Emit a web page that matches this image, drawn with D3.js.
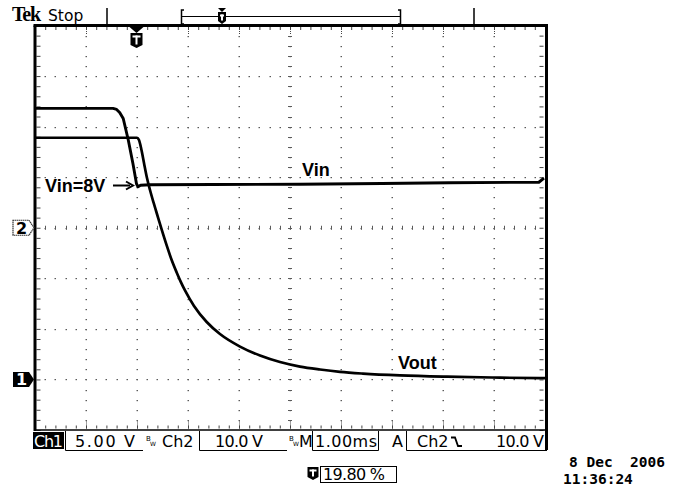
<!DOCTYPE html>
<html><head><meta charset="utf-8">
<script src="https://cdn.jsdelivr.net/npm/d3@7"></script>
<style>html,body{margin:0;padding:0;background:#fff;}svg{display:block}</style>
</head><body>
<svg id="c" width="678" height="491"></svg>
<script>
// ---- data (time in ms from left edge of screen, volts) ----
const vinTime  = [0, 1.53, 1.60, 1.66, 1.73, 1.83, 1.92, 1.99, 2.02, 2.07, 2.25, 3.5, 5.19, 6.8, 8.12, 9.88, 9.98];
const vinVolts = [23.6, 23.6, 23.4, 22.8, 21.6, 17.3, 12.7, 8.7, 8.1, 8.4, 8.5, 8.55, 8.6, 8.75, 8.9, 9.0, 9.8];
const voutTime  = [0, 2.0, 2.039, 2.088, 2.137, 2.196, 2.255, 2.324, 2.386, 2.48, 2.582, 2.676, 2.778, 2.863, 2.941, 3.118, 3.367, 3.627, 4.02, 4.412, 4.804, 5.196, 5.588, 5.98, 6.43, 7.157, 8.078, 9.118, 10.0];
const voutVolts = [23.9, 23.9, 23.68, 22.69, 21.41, 19.92, 18.73, 17.5, 16.46, 14.88, 13.25, 11.86, 10.58, 9.6, 8.8, 7.27, 5.68, 4.49, 3.25, 2.36, 1.72, 1.27, 0.98, 0.75, 0.58, 0.40, 0.27, 0.18, 0.12];
const ch1Scale = "5.00 V", ch2Scale = "10.0 V", timeScale = "1.00ms", trigLevel = "10.0 V";
const trigPos = "19.80 %", dateText = "8 Dec\u00a0\u00a02006", timeText = "11:36:24";
const trigTime = 2.0;
const divsX = [0,1,2,3,4,5,6,7,8,9,10];
const divsY = [0,1,2,3,4,5,6,7,8];

const svg = d3.select("#c");
svg.append("rect").attr("width",678).attr("height",491).attr("fill","#fff");

const L=35, R=545, TOP=25.5, B=430;
const xDiv = d3.scaleLinear().domain([0,10]).range([L,R]);
const yDiv = d3.scaleLinear().domain([0,8]).range([TOP,B]);
const x  = d3.scaleLinear().domain([0,10]).range([L,R]);        // 1 ms/div
const y2 = d3.scaleLinear().domain([-40,40]).range([B,TOP]);     // Ch2 10 V/div, ground centre
const y1 = d3.scaleLinear().domain([-5,35]).range([B,TOP]);      // Ch1 5 V/div

const minorX = d3.range(0,51).map(i=>i/5);
const minorY = d3.range(0,41).map(i=>i/5);

// graticule dots
const grid = svg.append("g").attr("fill","#5a5a5a");
divsX.slice(1,-1).forEach(c=>{
  minorY.slice(1,-1).forEach(v=>{
    grid.append("rect").attr("x",Math.round(xDiv(c))-0.5).attr("y",Math.round(yDiv(v))).attr("width",1.5).attr("height",1.2);
  });
});
divsY.slice(1,-1).forEach(r=>{
  minorX.slice(1,-1).forEach(v=>{
    grid.append("rect").attr("x",Math.round(xDiv(v))-0.5).attr("y",Math.round(yDiv(r))).attr("width",1.5).attr("height",1.2);
  });
});
const cx = xDiv(5), cy = yDiv(4);
minorY.slice(1,-1).forEach(v=>{
  grid.append("rect").attr("x",cx-2).attr("y",Math.round(yDiv(v))).attr("width",4).attr("height",1);
});
minorX.slice(1,-1).forEach(v=>{
  grid.append("rect").attr("x",Math.round(xDiv(v))).attr("y",cy-2).attr("width",1).attr("height",4);
});

// border ticks via axes
function styleAxis(g){ g.select(".domain").remove(); g.selectAll("line").attr("stroke","#444"); }
svg.append("g").attr("transform",`translate(${L+1.5},0)`).call(d3.axisRight(yDiv).tickValues(minorY).tickSize(4).tickFormat("")).call(styleAxis);
svg.append("g").attr("transform",`translate(${R-1.5},0)`).call(d3.axisLeft(yDiv).tickValues(minorY).tickSize(4).tickFormat("")).call(styleAxis);
svg.append("g").attr("transform",`translate(0,${TOP+1.5})`).call(d3.axisBottom(xDiv).tickValues(minorX).tickSize(3).tickFormat("")).call(styleAxis);
svg.append("g").attr("transform",`translate(0,${B-1.5})`).call(d3.axisTop(xDiv).tickValues(minorX).tickSize(3).tickFormat("")).call(styleAxis);
svg.append("g").attr("transform",`translate(0,${TOP+1.5})`).call(d3.axisBottom(xDiv).tickValues(divsX).tickSize(7).tickFormat("")).call(styleAxis).selectAll("line").attr("stroke-dasharray","1,1");
svg.append("g").attr("transform",`translate(0,${B-1.5})`).call(d3.axisTop(xDiv).tickValues(divsX).tickSize(7).tickFormat("")).call(styleAxis).selectAll("line").attr("stroke-dasharray","1,1");

// frame
const fr = svg.append("g").attr("stroke","#000").attr("stroke-width",3).attr("fill","none");
fr.append("line").attr("x1",L-1.5).attr("x2",R+3).attr("y1",TOP).attr("y2",TOP);
fr.append("line").attr("x1",L).attr("x2",L).attr("y1",TOP).attr("y2",B+1);
fr.append("line").attr("x1",R+1.5).attr("x2",R+1.5).attr("y1",TOP).attr("y2",450);
svg.append("line").attr("x1",L).attr("x2",R).attr("y1",B).attr("y2",B).attr("stroke","#000").attr("stroke-width",1.5);

// traces
const vinData = vinTime.map((t,i)=>[t,vinVolts[i]]);
const voutData = voutTime.map((t,i)=>[t,voutVolts[i]]);
svg.append("path").datum(vinData).attr("fill","none").attr("stroke","#000").attr("stroke-width",2.9).attr("stroke-linejoin","round")
  .attr("d",d3.line().x(d=>x(d[0])).y(d=>y2(d[1])));
svg.append("path").datum(voutData).attr("fill","none").attr("stroke","#000").attr("stroke-width",2.7)
  .attr("d",d3.line().x(d=>x(d[0])).y(d=>y1(d[1])).curve(d3.curveMonotoneX));

// T icon helper
function tIcon(cxp, top, w, h){
  const g = svg.append("g");
  g.append("path").attr("d",`M${cxp-w/2},${top} h${w} v${h-3} l-${w/2},3 l-${w/2},-3 Z`).attr("fill","#000");
  g.append("rect").attr("x",cxp-w/2+2).attr("y",top+2.5).attr("width",w-4).attr("height",2).attr("fill","#fff");
  g.append("rect").attr("x",cxp-1).attr("y",top+2.5).attr("width",2).attr("height",h-6).attr("fill","#fff");
}
const tx = x(trigTime)-0.5;
svg.append("path").attr("d",`M${tx-7},27 h14 l-7,6 Z`).attr("fill","#000");
tIcon(tx,33,12,15);
// top record bar
const tb = svg.append("g").attr("stroke","#000").attr("fill","none");
tb.append("line").attr("x1",107).attr("x2",107).attr("y1",8).attr("y2",25).attr("stroke-width",1.5);
tb.append("line").attr("x1",474).attr("x2",474).attr("y1",8).attr("y2",25).attr("stroke-width",1.5);
tb.append("path").attr("d","M184,10 h-2.5 v14 h2.5").attr("stroke-width",1.5);
tb.append("path").attr("d","M398,10 h2.5 v14 h-2.5").attr("stroke-width",1.5);
tb.append("line").attr("x1",182).attr("x2",400).attr("y1",16.5).attr("y2",16.5).attr("stroke-width",1.2);
svg.append("path").attr("d","M218,8 h8 l-4,4 Z").attr("fill","#000");
tIcon(222,12,8,12);

// ground markers
svg.append("path").attr("d",`M13,${y2(0)-7.5} H29 L34,${y2(0)} L29,${y2(0)+7.5} H13 Z`).attr("fill","#fff").attr("stroke","#333").attr("stroke-width",1.2).attr("stroke-dasharray","1.5,0.5");
svg.append("text").attr("x",16).attr("y",y2(0)+6).text("2").attr("font-family","DejaVu Sans").attr("font-weight","bold").attr("font-size",16).attr("fill","#000");
svg.append("path").attr("d",`M13,${y1(0)-7.5} H29 L34,${y1(0)} L29,${y1(0)+7.5} H13 Z`).attr("fill","#000");
svg.append("text").attr("x",16).attr("y",y1(0)+6).text("1").attr("font-family","DejaVu Sans").attr("font-weight","bold").attr("font-size",16).attr("fill","#fff");

function txt(xp,yp,s,attrs){ const t=svg.append("text").attr("x",xp).attr("y",yp).text(s); Object.entries(attrs).forEach(([k,v])=>t.attr(k,v)); return t; }

// header text
txt(12,21,"Tek",{"font-family":"Liberation Serif","font-weight":"bold","font-size":20,"letter-spacing":-1.2});
txt(48,21,"Stop",{"font-family":"DejaVu Sans","font-size":15.5});

// annotations
const ann = {"font-family":"Liberation Sans","font-weight":"bold","font-size":18};
txt(45,192,"Vin=8V",ann);
svg.append("line").attr("x1",113).attr("x2",130).attr("y1",185.5).attr("y2",185.5).attr("stroke","#000").attr("stroke-width",2);
svg.append("path").attr("d","M126,181.5 L133,185.5 L126,189.5").attr("fill","none").attr("stroke","#000").attr("stroke-width",2);
txt(302,176,"Vin",ann);
txt(398,369,"Vout",ann);

// bottom readouts
const ro = {"font-family":"DejaVu Sans","font-size":16};
svg.append("rect").attr("x",33).attr("y",432).attr("width",31).attr("height",17).attr("fill","#000");
txt(34,447,"Ch1",Object.assign({fill:"#fff",textLength:29},ro));
const bx = svg.append("g").attr("stroke","#000").attr("stroke-width",1).attr("fill","none");
bx.append("path").attr("d","M65.5,431 V450.5 H143");
bx.append("path").attr("d","M199.5,431 V450.5 H287");
bx.append("path").attr("d","M312.5,431 V450.5 H378.5 V431");
bx.append("path").attr("d","M406.5,431 V450.5 H547");
txt(75,447,ch1Scale,Object.assign({textLength:60},ro));
function bw(xp){ txt(xp,441,"B",{"font-family":"DejaVu Sans","font-size":7}); txt(xp+4,446,"W",{"font-family":"DejaVu Sans","font-size":6}); }
bw(146); bw(289);
txt(162,447,"Ch2",Object.assign({},ro));
txt(215,447,ch2Scale,Object.assign({textLength:48},ro));
txt(299,447,"M",Object.assign({},ro));
txt(315,447,timeScale,Object.assign({textLength:62},ro));
txt(392,447,"A",Object.assign({},ro));
txt(417,447,"Ch2",Object.assign({},ro));
svg.append("path").attr("d","M451,437.5 h4 l3,8.5 h4").attr("fill","none").attr("stroke","#000").attr("stroke-width",1.8);
txt(496,447,trigLevel,Object.assign({textLength:48},ro));

// trigger position readout
tIcon(313,467,11,13);
bx.append("rect").attr("x",320.5).attr("y",466.5).attr("width",76).attr("height",16);
txt(323,480,trigPos,Object.assign({textLength:62},ro));

// date/time
const dt = {"font-family":"DejaVu Sans Mono","font-weight":"bold","font-size":14.5};
txt(569,467,dateText,dt);
txt(563,484,timeText,dt);
</script>
</body></html>
